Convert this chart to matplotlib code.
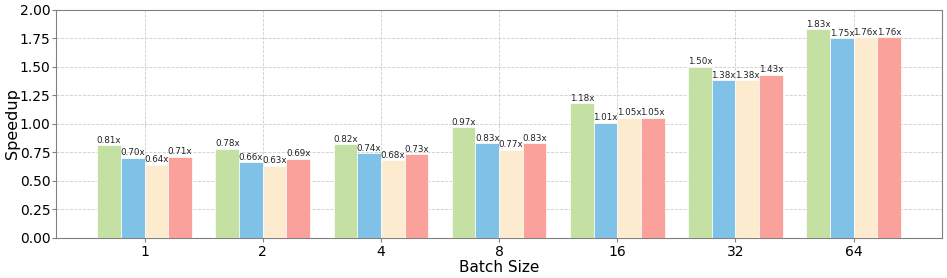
import numpy as np
import matplotlib.pyplot as plt

# batch sizes and speedups for the four variants
batch_sizes = ['1', '2', '4', '8', '16', '32', '64']
speedup_a = [0.81, 0.78, 0.82, 0.97, 1.18, 1.50, 1.83]
speedup_b = [0.70, 0.66, 0.74, 0.83, 1.01, 1.38, 1.75]
speedup_c = [0.64, 0.63, 0.68, 0.77, 1.05, 1.38, 1.76]
speedup_d = [0.71, 0.69, 0.73, 0.83, 1.05, 1.43, 1.76]

series = [speedup_a, speedup_b, speedup_c, speedup_d]
colors = ['#c5e0a3', '#7fc1e7', '#fdebd0', '#f9a19a']

x = np.arange(len(batch_sizes))
width = 0.2

fig, ax = plt.subplots(figsize=(9.47, 2.78), dpi=100)
for i, (vals, c) in enumerate(zip(series, colors)):
    pos = x + (i - 1.5) * width
    bars = ax.bar(pos, vals, width, color=c, edgecolor='white', linewidth=0.5, zorder=3)
    for b, v in zip(bars, vals):
        ax.text(b.get_x() + b.get_width() / 2, v + 0.005, f'{v:.2f}x',
                ha='center', va='bottom', fontsize=6.3, color='#222222', zorder=4)

ax.set_xticks(x)
ax.set_xticklabels(batch_sizes)
ax.set_xlim(-0.75, 6.75)
ax.set_ylim(0, 2.0)
ax.set_yticks(np.arange(0, 2.01, 0.25))
ax.tick_params(labelsize=10, length=3, color='#808080')
ax.tick_params(axis='y', pad=1)
ax.tick_params(axis='x', pad=2)
ax.set_xlabel('Batch Size', fontsize=11, labelpad=1)
ax.set_ylabel('Speedup', fontsize=11.5)
ax.yaxis.set_label_coords(-0.041, 0.5)
ax.grid(True, linestyle='--', color='#cccccc', linewidth=0.6, zorder=0)
for s in ax.spines.values():
    s.set_color('#808080')

plt.subplots_adjust(left=0.059, right=0.995, top=0.965, bottom=0.145)
plt.savefig('out.png', dpi=100)
